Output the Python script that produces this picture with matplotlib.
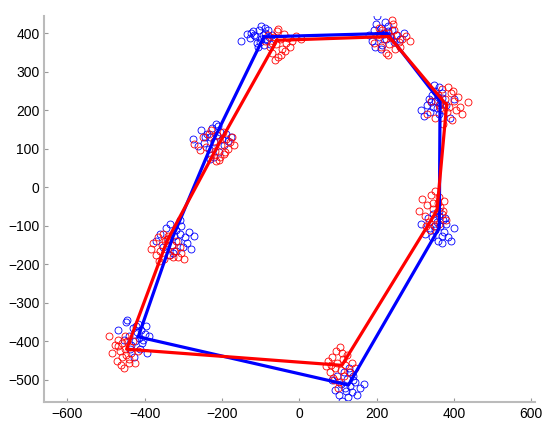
import numpy as np
import matplotlib
matplotlib.use("Agg")
import matplotlib.pyplot as plt

plt.rcParams['font.family'] = ['Liberation Sans', 'DejaVu Sans']

# polygon vertices (closed afterwards)
blue_vx = [-92, 228, 364, 362, 127, -417, -327, -222]
blue_vy = [391, 400, 224, -105, -513, -388, -128, 123]
red_vx = [-58, 232, 381, 356, 110, -447, -342, -212]
red_vy = [382, 392, 214, -60, -462, -420, -138, 106]

# scattered samples, blue
blue_x = [
    -150, -135, -128, -120, -115, -110, -105, -100, -98, -95, -92, -88, -85, -82, -78, -75, -70, -108, -118, -90, -102, -125,
    180, 188, 192, 198, 200, 205, 208, 212, 215, 218, 222, 225, 230, 235, 240, 245, 250, 260, 270, 210, 195, 228,
    315, 322, 330, 335, 338, 342, 345, 350, 352, 355, 358, 360, 365, 368, 372, 380, 390, 400, 348, 362, 340, 370,
    315, 325, 332, 338, 342, 345, 350, 355, 358, 362, 365, 368, 372, 375, 380, 385, 392, 400, 360, 348, 370, 378,
    85, 92, 98, 102, 108, 110, 115, 118, 122, 125, 128, 132, 135, 140, 145, 150, 158, 168, 112, 130, 120, 138,
    -470, -455, -448, -440, -435, -430, -425, -420, -418, -415, -412, -410, -405, -400, -398, -395, -390, -428, -438, -408, -422, -445,
    -372, -360, -352, -345, -340, -335, -330, -325, -320, -318, -315, -310, -305, -300, -295, -290, -285, -280, -272, -338, -328, -308,
    -275, -262, -255, -248, -240, -235, -230, -225, -220, -215, -212, -208, -205, -200, -195, -190, -185, -178, -222, -232, -210, -245,
]
blue_y = [
    380, 398, 388, 405, 392, 375, 410, 385, 420, 395, 370, 400, 382, 408, 390, 372, 395, 365, 395, 415, 378, 402,
    395, 380, 410, 425, 445, 390, 402, 415, 370, 398, 430, 385, 405, 392, 410, 378, 395, 385, 400, 360, 365, 420,
    200, 185, 215, 230, 195, 240, 210, 225, 250, 205, 235, 260, 220, 245, 200, 215, 180, 230, 265, 190, 222, 232,
    -95, -120, -80, -105, -130, -70, -110, -90, -140, -60, -100, -125, -85, -115, -95, -130, -140, -105, -75, -100, -145, -80,
    -500, -525, -490, -540, -510, -555, -480, -520, -498, -545, -470, -515, -530, -490, -505, -540, -520, -510, -565, -480, -528, -500,
    -370, -395, -350, -385, -410, -365, -400, -375, -355, -390, -420, -370, -395, -380, -360, -430, -385, -440, -420, -405, -360, -345,
    -140, -120, -155, -105, -135, -95, -150, -125, -110, -165, -140, -120, -100, -155, -130, -145, -115, -160, -125, -175, -170, -85,
    125, 108, 150, 115, 140, 100, 130, 155, 118, 165, 135, 92, 145, 125, 110, 138, 120, 132, 80, 75, 160, 130,
]

# scattered samples, red
red_x = [
    -88, -80, -75, -70, -65, -60, -58, -55, -50, -45, -40, -35, -30, -25, -20, -10, 5, -62, -48, -72, -38, -55,
    192, 200, 210, 215, 220, 225, 228, 232, 238, 242, 248, 252, 258, 265, 275, 285, 230, 218, 245, 260, 205, 240,
    330, 340, 350, 358, 365, 370, 375, 378, 382, 385, 388, 392, 395, 400, 405, 410, 420, 435, 372, 398, 362, 415,
    310, 318, 325, 330, 335, 340, 345, 348, 352, 355, 358, 362, 365, 370, 375, 380, 338, 350, 362, 328, 345, 372,
    68, 75, 80, 85, 88, 92, 95, 98, 102, 105, 108, 112, 115, 118, 122, 128, 135, 145, 100, 90, 110, 82,
    -492, -485, -478, -472, -468, -465, -460, -458, -455, -452, -448, -445, -442, -438, -435, -430, -425, -418, -462, -450, -440, -470,
    -385, -378, -372, -365, -360, -355, -350, -348, -345, -340, -335, -330, -325, -320, -315, -310, -305, -298, -362, -342, -328, -352,
    -272, -258, -250, -242, -235, -228, -222, -218, -212, -208, -202, -198, -195, -190, -185, -180, -175, -170, -215, -205, -228, -192,
]
red_y = [
    380, 395, 365, 350, 390, 372, 405, 340, 385, 360, 398, 375, 388, 365, 380, 392, 385, 330, 345, 375, 355, 412,
    375, 395, 365, 410, 385, 350, 400, 372, 390, 425, 360, 395, 378, 385, 392, 380, 345, 400, 410, 365, 415, 434,
    190, 225, 180, 240, 205, 255, 215, 230, 195, 260, 210, 245, 175, 225, 200, 235, 190, 222, 165, 250, 215, 208,
    -60, -30, -75, -45, -90, -20, -55, -80, -10, -65, -40, -95, -50, -70, -35, -85, -110, -100, -25, -100, -40, -60,
    -465, -450, -480, -440, -495, -470, -425, -455, -505, -415, -475, -445, -490, -460, -435, -480, -455, -470, -520, -500, -430, -460,
    -385, -430, -410, -450, -395, -425, -440, -405, -470, -420, -435, -400, -455, -415, -430, -400, -455, -425, -460, -385, -445, -412,
    -160, -145, -175, -130, -165, -150, -185, -140, -160, -125, -175, -150, -165, -140, -180, -155, -170, -185, -190, -135, -180, -120,
    112, 98, 130, 105, 140, 85, 120, 95, 135, 72, 110, 145, 88, 125, 100, 118, 130, 110, 68, 80, 150, 92,
]

fig = plt.figure(figsize=(5.5, 4.3), dpi=100)
ax = fig.add_axes([0.0805, 0.0644, 0.8925, 0.8991])

ax.plot(blue_x, blue_y, 'o', mfc='none', mec=(0, 0, 1), ms=5, mew=0.6, zorder=2)
ax.plot(red_x, red_y, 'o', mfc='none', mec=(1, 0, 0), ms=5, mew=0.6, zorder=2)
ax.plot(blue_vx + blue_vx[:1], blue_vy + blue_vy[:1], color=(0, 0, 1), lw=2.3, zorder=3)
ax.plot(red_vx + red_vx[:1], red_vy + red_vy[:1], color=(1, 0, 0), lw=2.3, zorder=4)

ax.set_xlim(-660, 610)
ax.set_ylim(-558, 446)
ax.set_xticks(np.arange(-600, 601, 200))
ax.set_yticks(np.arange(-500, 401, 100))

for side in ['top', 'right']:
    ax.spines[side].set_visible(False)
for side in ['left', 'bottom']:
    ax.spines[side].set_color('#bbbbbb')
    ax.spines[side].set_linewidth(1.5)
ax.tick_params(direction='in', length=3, color='#999999', labelsize=10)

fig.savefig('out.png', dpi=100)
